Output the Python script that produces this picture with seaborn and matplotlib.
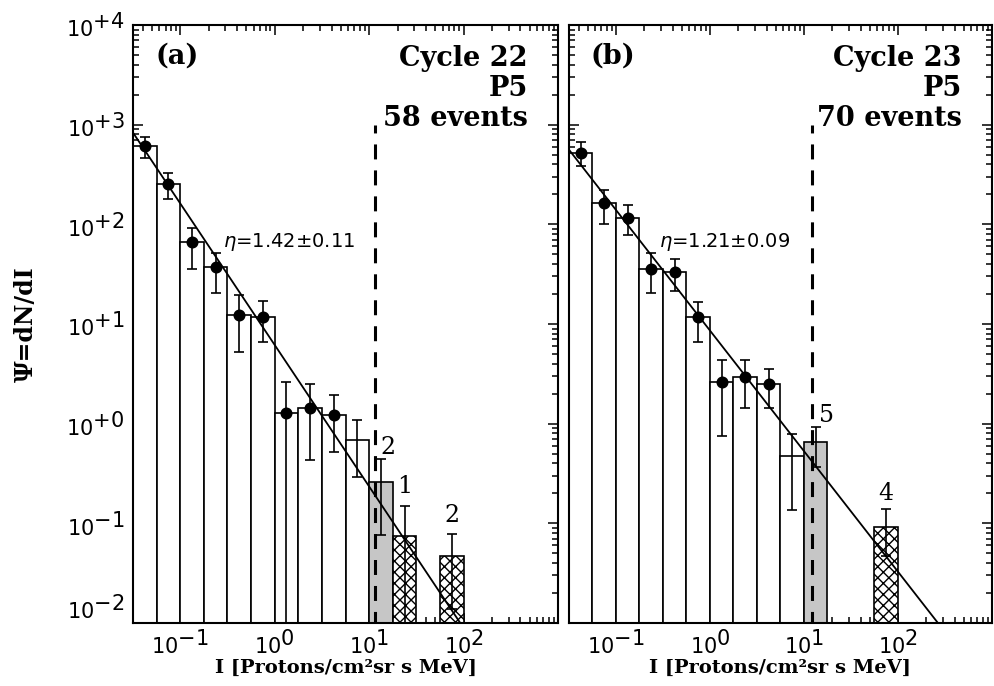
import numpy as np
import matplotlib
matplotlib.use('Agg')
import matplotlib.pyplot as plt
import matplotlib.ticker as mticker
import matplotlib._mathtext as mathtext_internals
import seaborn as sns

# IDL-style exponents: same size as the "10" they sit on
mathtext_internals.SHRINK_FACTOR = 1.0

# log10 of the intensity bin edges (quarter-decade bins)
log_edges = [-1.5, -1.25, -1.0, -0.75, -0.5, -0.25, 0.0,
             0.25, 0.5, 0.75, 1.0, 1.25, 1.5, 1.75, 2.0]

# Cycle 22, P5 (panel a)
psi_22 = [617, 257, 66, 37, 12.3, 11.7, 1.29, 1.45, 1.23, 0.69,
          0.26, 0.074, 0, 0.047]
psi_lo_22 = [468, 178, 36, 20.4, 5.2, 6.6, 0, 0.43, 0.52, 0.295,
             0.076, 0, 0, 0.0138]
psi_hi_22 = [759, 324, 93, 52, 19.5, 17, 2.63, 2.5, 1.95, 1.1,
             0.44, 0.148, 0, 0.079]
kinds_22 = ['open'] * 10 + ['grey', 'hatch', 'none', 'hatch']
count_bins_22 = [10, 11, 13]
counts_22 = [2, 1, 2]
eta_22, eta_err_22, norm_22 = 1.42, 0.11, 6.17
threshold_22 = 11.6
events_22 = 58

# Cycle 23, P5 (panel b)
psi_23 = [525, 162, 117, 36, 33, 11.7, 2.63, 2.95, 2.5, 0.47,
          0.66, 0, 0, 0.093]
psi_lo_23 = [389, 100, 78, 20.4, 21.4, 6.6, 0.76, 1.45, 1.45, 0.135,
             0.37, 0, 0, 0.047]
psi_hi_23 = [676, 219, 155, 52, 44.7, 16.6, 4.4, 4.4, 3.5, 0.78,
             0.93, 0, 0, 0.138]
kinds_23 = ['open'] * 10 + ['grey', 'none', 'none', 'hatch']
count_bins_23 = [10, 13]
counts_23 = [5, 4]
eta_23, eta_err_23, norm_23 = 1.21, 0.09, 8.6
threshold_23 = 12.2
events_23 = 70

N_DOTS = 9
SERIF = 'DejaVu Serif'


def draw_panel(ax, psi, psi_lo, psi_hi, kinds, count_bins, counts,
               count_offsets, eta, eta_err, norm, threshold, tag, cycle,
               n_events):
    '''
    Draws one histogram panel with its power-law fit and annotations.
    '''
    edges = np.asarray(log_edges)
    centres = 10 ** ((edges[:-1] + edges[1:]) / 2)
    psi = np.asarray(psi, dtype=float)
    psi_lo = np.asarray(psi_lo, dtype=float)
    psi_hi = np.asarray(psi_hi, dtype=float)
    kinds = np.asarray(kinds)

    # Histogram bars, one seaborn call per bar style
    styles = {'open': dict(color='white'),
              'grey': dict(color='#c6c6c6'),
              'hatch': dict(color='white', hatch='xxx')}
    for kind, style in styles.items():
        sel = kinds == kind
        if not sel.any():
            continue
        sns.histplot(x=centres[sel], weights=psi[sel], bins=log_edges,
                     log_scale=(True, True), element='bars', fill=True,
                     alpha=1, edgecolor='black', linewidth=1.2, zorder=1,
                     ax=ax, **style)
    # bars start at zero: clip (not mask) on the log axes
    ax.set_xscale('log', nonpositive='clip')
    ax.set_yscale('log', nonpositive='clip')

    # Power-law fit
    x_fit = np.logspace(-1.5, 3, 100)
    sns.lineplot(x=x_fit, y=norm * x_fit ** -eta, color='black',
                 linewidth=1.3, zorder=3, ax=ax)

    # Threshold
    ax.plot([threshold, threshold], [1e3, 1e-3], color='black',
            linewidth=2.2, linestyle=(2.3, (4.9, 3.6)), zorder=3)

    # Error bars and dots
    sel = psi_hi > 0
    ax.errorbar(centres[sel], psi[sel],
                yerr=[psi[sel] - psi_lo[sel], psi_hi[sel] - psi[sel]],
                fmt='none', ecolor='black', elinewidth=1.2, capsize=3.8,
                capthick=1.2, zorder=4)
    sns.scatterplot(x=centres[:N_DOTS], y=psi[:N_DOTS], color='black',
                    s=75, linewidth=0, zorder=5, ax=ax)

    # Event counts over the high-intensity bins
    for b, n, (dx, dy) in zip(count_bins, counts, count_offsets):
        ax.annotate(str(n), xy=(centres[b], psi_hi[b]), xytext=(dx, dy),
                    textcoords='offset points', ha='center', va='baseline',
                    fontsize=17, fontfamily=SERIF)

    ax.text(0.052, 0.970, tag, transform=ax.transAxes, ha='left', va='top',
            fontsize=19.5, fontfamily=SERIF, fontweight='bold')
    ax.text(0.929, 0.967, f'Cycle {cycle}\nP5\n{n_events} events',
            transform=ax.transAxes, ha='right', va='top', fontsize=19.5,
            fontfamily=SERIF, fontweight='bold', linespacing=1.15,
            multialignment='right')
    ax.text(0.212, 0.637, r'$\eta$=%.2f$\pm$%.2f' % (eta, eta_err),
            transform=ax.transAxes, ha='left', va='center', fontsize=14,
            fontfamily='DejaVu Sans')

    # Axes, ticks
    ax.set_xlim(10 ** -1.5, 1e3)
    ax.set_ylim(1e-2, 1e4)
    ax.xaxis.set_major_locator(mticker.FixedLocator([0.1, 1, 10, 100]))
    ax.xaxis.set_minor_locator(
        mticker.LogLocator(base=10, subs=np.arange(2, 10), numticks=50))
    ax.xaxis.set_major_formatter(mticker.FuncFormatter(
        lambda v, pos: r'$10^{%d}$' % round(np.log10(v))))
    ax.xaxis.set_minor_formatter(mticker.NullFormatter())
    ax.yaxis.set_major_locator(mticker.FixedLocator(
        [1e-2, 1e-1, 1e0, 1e1, 1e2, 1e3, 1e4]))
    ax.yaxis.set_minor_locator(
        mticker.LogLocator(base=10, subs=np.arange(2, 10), numticks=50))
    ax.yaxis.set_major_formatter(mticker.FuncFormatter(
        lambda v, pos: r'$10^{%+d}$' % round(np.log10(v))))
    ax.yaxis.set_minor_formatter(mticker.NullFormatter())
    ax.tick_params(which='both', direction='in', top=True, right=True,
                   width=1.1, color='black', labelsize=15)
    ax.tick_params(which='major', length=7)
    ax.tick_params(which='minor', length=4)
    ax.tick_params(axis='x', pad=4.5)
    ax.tick_params(axis='y', pad=6)
    for spine in ax.spines.values():
        spine.set_linewidth(1.5)
        spine.set_color('black')

    ax.set_xlabel('I [Protons/cm²sr s MeV]', fontsize=14,
                  fontfamily=SERIF, fontweight='bold')
    ax.xaxis.set_label_coords(0.5, -0.06)
    ax.set_ylabel('')


def main():
    sns.set_style('ticks', rc={'axes.edgecolor': 'black',
                               'text.color': 'black',
                               'axes.labelcolor': 'black',
                               'xtick.color': 'black',
                               'ytick.color': 'black'})
    plt.rcParams['mathtext.fontset'] = 'custom'
    plt.rcParams['mathtext.rm'] = 'DejaVu Sans'
    plt.rcParams['mathtext.it'] = 'DejaVu Sans:italic'
    plt.rcParams['hatch.linewidth'] = 1.0

    fig = plt.figure(figsize=(9.94, 6.86), dpi=100)
    ax1 = fig.add_axes([0.1338, 0.0918, 0.4276, 0.8717])
    ax2 = fig.add_axes([0.5724, 0.0918, 0.4256, 0.8717], sharey=ax1)

    draw_panel(ax1, psi_22, psi_lo_22, psi_hi_22, kinds_22, count_bins_22,
               counts_22, [(5, 4), (0, 10), (0, 8.5)], eta_22, eta_err_22,
               norm_22, threshold_22, '(a)', 22, events_22)
    draw_panel(ax2, psi_23, psi_lo_23, psi_hi_23, kinds_23, count_bins_23,
               counts_23, [(8, 3.5), (0, 6.5)], eta_23, eta_err_23,
               norm_23, threshold_23, '(b)', 23, events_23)

    ax1.set_ylabel('Ψ=dN/dI', fontsize=17, fontfamily=SERIF,
                   fontweight='bold')
    ax1.yaxis.set_label_coords(-0.224, 0.5)
    ax2.tick_params(labelleft=False)
    ax1.yaxis.get_major_ticks()[0].label1.set_verticalalignment('bottom')

    fig.savefig('out.png', dpi=100)


if __name__ == '__main__':
    main()
